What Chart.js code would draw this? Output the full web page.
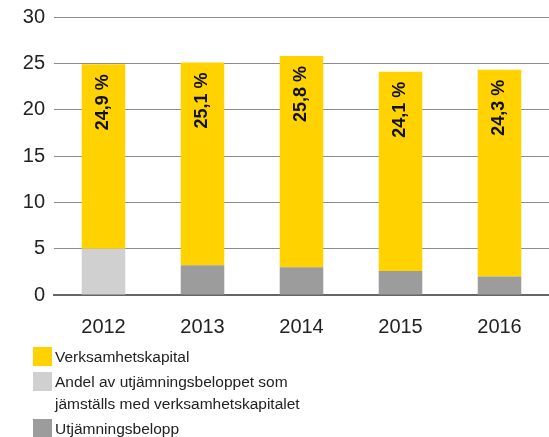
<!DOCTYPE html>
<html>
<head>
<meta charset="utf-8">
<script src="https://cdn.jsdelivr.net/npm/chart.js@4/dist/chart.umd.min.js"></script>
<style>
  html, body { margin: 0; padding: 0; background: #fff; }
  body { width: 549px; height: 437px; position: relative; overflow: hidden; font-family: 'Liberation Sans', Arial, sans-serif; }
  #wrap { position: absolute; left: 0; top: -4px; width: 549px; height: 355px; }
  #legend { position: absolute; left: 33px; top: 347px; font-size: 15.5px; color: #222; }
  .leg-item { display: flex; align-items: flex-start; margin-bottom: 4px; }
  .leg-box { width: 19px; height: 19px; flex: none; margin-right: 3px; }
  .leg-text { line-height: 22px; margin-top: -1px; }
</style>
</head>
<body>
<div id="wrap"><canvas id="chart"></canvas></div>
<div id="legend"></div>
<script>
// ── data ──
const YEARS = ['2012', '2013', '2014', '2015', '2016'];
const VERKSAMHETSKAPITAL = [19.9, 21.9, 22.8, 21.5, 22.3];
const ANDEL_UTJAMNING = [5.0, null, null, null, null];
const UTJAMNINGSBELOPP = [null, 3.2, 3.0, 2.6, 2.0];
const TOTAL_LABELS = ['24,9 %', '25,1 %', '25,8 %', '24,1 %', '24,3 %'];
const Y_TICKS = [0, 5, 10, 15, 20, 25, 30];

const COLORS = { yellow: '#FFD200', light: '#D0D0D0', dark: '#9C9C9C' };
const FONT = '"Liberation Sans", Arial, sans-serif';

// legend order as in the original
const LEGEND = [
  { text: 'Verksamhetskapital', color: COLORS.yellow },
  { text: 'Andel av utjämningsbeloppet som<br>jämställs med verksamhetskapitalet', color: COLORS.light },
  { text: 'Utjämningsbelopp', color: COLORS.dark },
];

document.getElementById('legend').innerHTML = LEGEND.map(l =>
  `<div class="leg-item"><div class="leg-box" style="background:${l.color}"></div><div class="leg-text">${l.text}</div></div>`
).join('');

/* rotated percentage labels inside the yellow bars */
const barLabels = {
  id: 'barLabels',
  afterDatasetsDraw(chart) {
    const meta = chart.getDatasetMeta(2);
    const ctx = chart.ctx;
    ctx.save();
    ctx.font = 'bold 18px ' + FONT;
    ctx.fillStyle = '#111';
    ctx.textAlign = 'right';
    ctx.textBaseline = 'middle';
    meta.data.forEach((bar, i) => {
      ctx.save();
      ctx.translate(bar.x, bar.y + 10);
      ctx.rotate(-Math.PI / 2);
      ctx.fillText(TOTAL_LABELS[i], 0, 0);
      ctx.restore();
    });
    ctx.restore();
  }
};

const bar = (label, data, color) => ({
  label, data, backgroundColor: color, borderWidth: 0,
  barPercentage: 0.44, categoryPercentage: 1,
});

new Chart(document.getElementById('chart').getContext('2d'), {
  type: 'bar',
  data: {
    labels: YEARS,
    datasets: [
      bar('Andel av utjämningsbeloppet som jämställs med verksamhetskapitalet', ANDEL_UTJAMNING, COLORS.light),
      bar('Utjämningsbelopp', UTJAMNINGSBELOPP, COLORS.dark),
      bar('Verksamhetskapital', VERKSAMHETSKAPITAL, COLORS.yellow),
    ]
  },
  options: {
    responsive: true,
    maintainAspectRatio: false,
    animation: false,
    layout: { padding: 0 },
    plugins: { legend: { display: false }, tooltip: { enabled: false } },
    scales: {
      x: {
        stacked: true,
        grid: { display: false },
        border: { display: true, color: '#666', width: 2 },
        ticks: { color: '#222', padding: 12, font: { size: 20, family: FONT } }
      },
      y: {
        stacked: true,
        min: 0, max: 30,
        afterFit: s => { s.width = 54; },
        afterBuildTicks: s => { s.ticks = Y_TICKS.map(v => ({ value: v })); },
        grid: { color: '#8c8c8c', lineWidth: 1, drawTicks: false },
        border: { display: false },
        ticks: { color: '#222', padding: 9, font: { size: 20, family: FONT } }
      }
    }
  },
  plugins: [barLabels]
});
</script>
</body>
</html>
